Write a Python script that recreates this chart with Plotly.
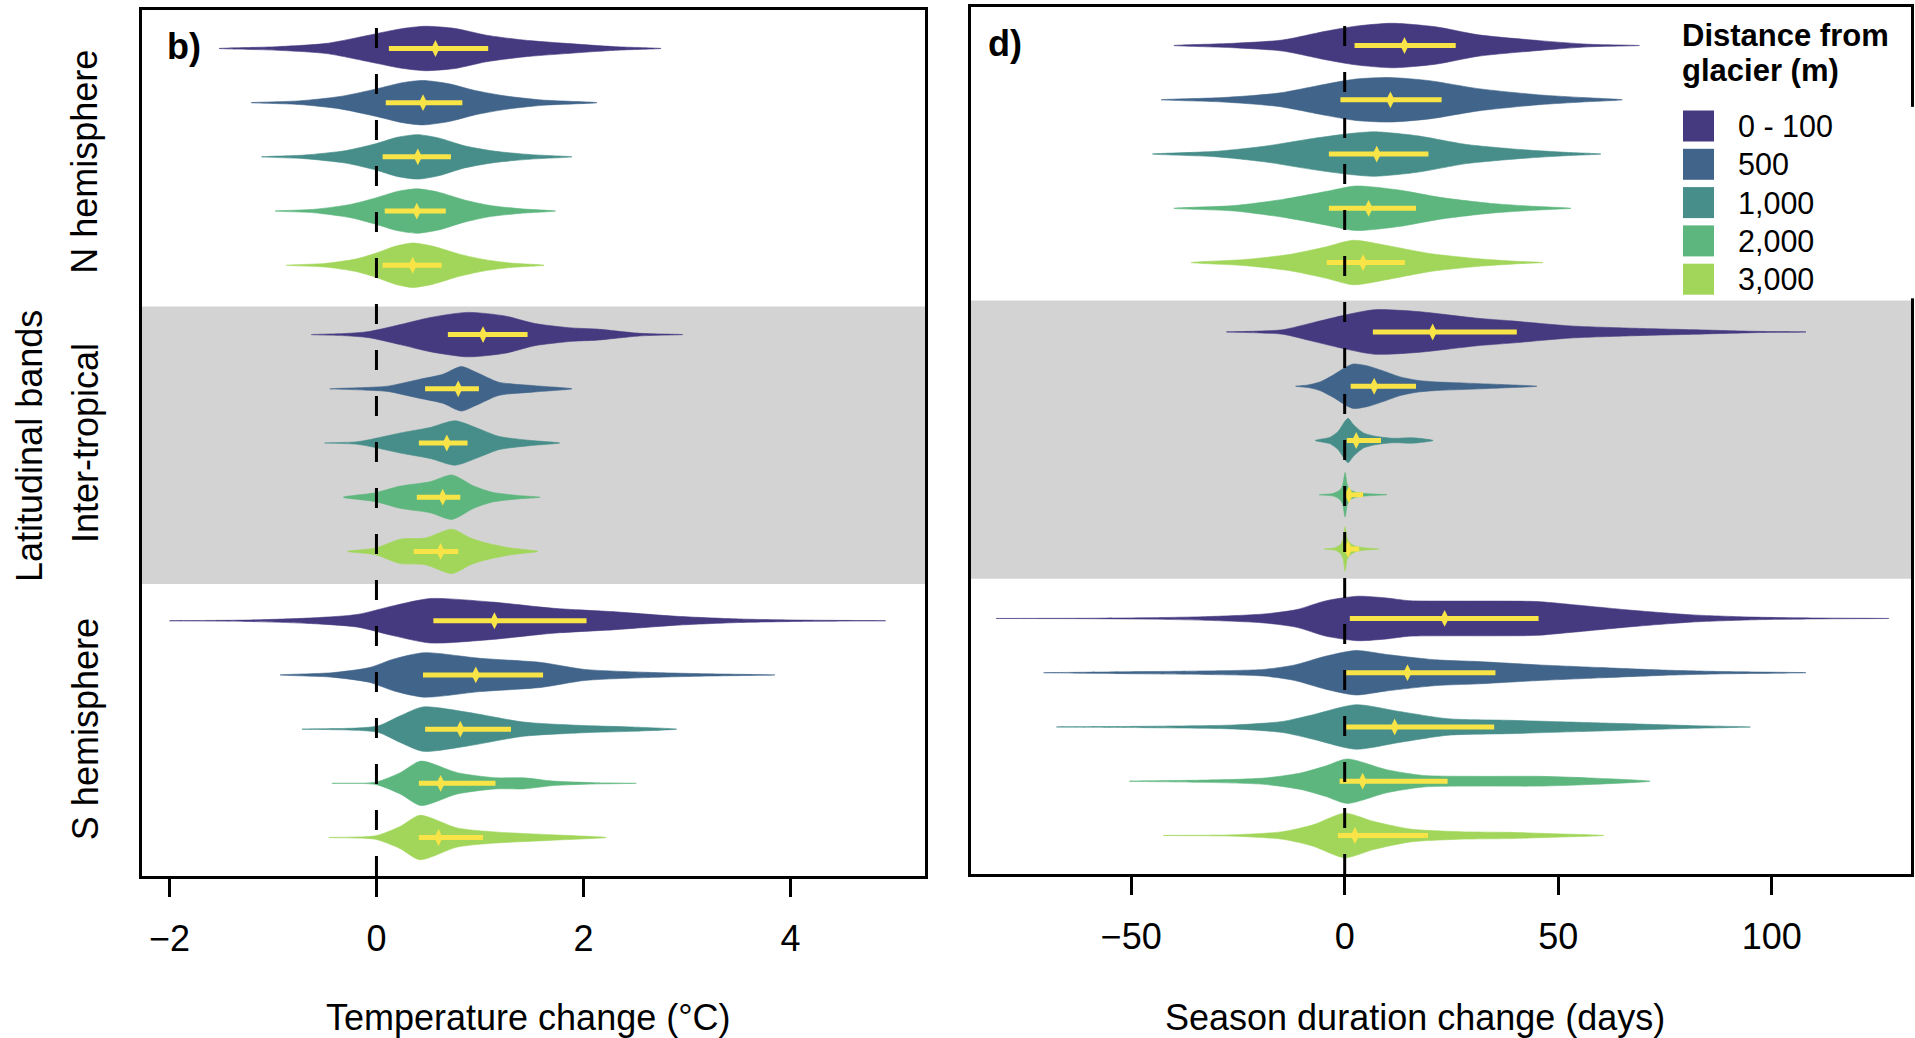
import plotly.graph_objects as go

# ---------------- data ----------------
groups = ["N hemisphere", "Inter-tropical", "S hemisphere"]
distances = ["0 - 100", "500", "1,000", "2,000", "3,000"]
colors = ["#453A80", "#41648A", "#478E8A", "#5DB67E", "#A2D65B"]

# Temperature change (°C): median, interquartile range, density profile (x knots, relative width)
temp_median = [0.57, 0.45, 0.40, 0.39, 0.35, 1.03, 0.79, 0.68, 0.64, 0.62, 1.14, 0.96, 0.81, 0.62, 0.60]
temp_q1 = [0.12, 0.09, 0.06, 0.08, 0.06, 0.69, 0.47, 0.41, 0.39, 0.36, 0.55, 0.45, 0.47, 0.41, 0.41]
temp_q3 = [1.08, 0.83, 0.72, 0.67, 0.63, 1.46, 0.99, 0.88, 0.81, 0.79, 2.03, 1.61, 1.30, 1.15, 1.03]
temp_x = [
    [-1.52, -0.96, -0.48, -0.07, 0.23, 0.47, 0.76, 1.06, 1.42, 1.83, 2.31, 2.75],
    [-1.21, -0.75, -0.35, 0.0, 0.25, 0.45, 0.7, 0.95, 1.25, 1.6, 2.13],
    [-1.11, -0.7, -0.3, 0.0, 0.2, 0.40, 0.6, 0.85, 1.15, 1.5, 1.89],
    [-0.98, -0.6, -0.25, 0.0, 0.2, 0.39, 0.6, 0.85, 1.1, 1.4, 1.73],
    [-0.87, -0.5, -0.2, 0.0, 0.18, 0.35, 0.55, 0.8, 1.05, 1.3, 1.62],
    [-0.63, -0.3, -0.07, 0.23, 0.52, 0.88, 1.24, 1.53, 1.89, 2.13, 2.54, 2.96],
    [-0.45, -0.1, 0.11, 0.41, 0.64, 0.82, 0.97, 1.18, 1.53, 1.89],
    [-0.50, -0.2, -0.07, 0.23, 0.52, 0.76, 1.0, 1.18, 1.48, 1.77],
    [-0.32, -0.01, 0.23, 0.52, 0.73, 0.94, 1.12, 1.36, 1.58],
    [-0.28, -0.01, 0.23, 0.47, 0.73, 0.91, 1.06, 1.30, 1.56],
    [-2.0, -1.26, -0.66, -0.19, 0.17, 0.52, 1.12, 1.71, 2.31, 2.90, 3.5, 4.09, 4.92],
    [-0.93, -0.43, -0.07, 0.17, 0.46, 1.0, 1.59, 2.01, 2.6, 3.2, 3.85],
    [-0.72, -0.19, 0.02, 0.23, 0.45, 0.88, 1.42, 2.01, 2.45, 2.90],
    [-0.43, -0.01, 0.23, 0.43, 0.78, 1.15, 1.42, 1.71, 2.1, 2.51],
    [-0.46, -0.01, 0.23, 0.42, 0.78, 1.15, 1.71, 2.22],
]
temp_w = [
    [0, .08, .23, .6, .88, 1, .9, .6, .38, .23, .08, 0],
    [0, .08, .28, .62, .9, 1, .85, .55, .3, .12, 0],
    [0, .08, .28, .6, .88, 1, .85, .5, .25, .1, 0],
    [0, .08, .3, .6, .88, 1, .85, .5, .25, .1, 0],
    [0, .08, .28, .55, .85, 1, .85, .5, .25, .1, 0],
    [0, .05, .14, .45, .77, 1, .84, .5, .3, .25, .06, 0],
    [0, .06, .12, .42, .65, 1, .73, .3, .14, 0],
    [0, .05, .15, .45, .7, 1, .62, .3, .12, 0],
    [0, .2, .5, .7, 1, .5, .22, .08, 0],
    [0, .15, .55, .6, 1, .6, .38, .15, 0],
    [0, .03, .12, .28, .68, 1, .84, .56, .4, .2, .08, .03, 0],
    [0, .1, .33, .72, 1, .75, .56, .25, .12, .05, 0],
    [0, .05, .15, .6, 1, .76, .32, .16, .1, 0],
    [0, .05, .48, 1, .48, .25, .25, .1, .03, 0],
    [0, .08, .5, 1, .43, .25, .12, 0],
]

# Season duration change (days)
season_median = [14.0, 10.7, 7.5, 5.6, 4.3, 20.6, 6.9, 2.7, 1.0, 0.8, 23.4, 14.7, 11.7, 4.2, 2.4]
season_q1 = [2.3, -1.0, -3.7, -3.7, -4.2, 6.6, 1.4, 0.5, 0.5, 0.5, 1.2, 0.0, 0.0, -1.2, -1.6]
season_q3 = [26.0, 22.7, 19.6, 16.7, 14.1, 40.3, 16.7, 8.5, 4.3, 3.4, 45.4, 35.3, 35.0, 24.1, 19.5]
season_x = [
    [-40, -26, -14.5, -4.5, 2.6, 11, 21.3, 31.3, 45.6, 57, 69],
    [-43, -28.5, -15.5, -4.5, 2.6, 10.5, 19.8, 31.3, 45.6, 55.7, 65],
    [-45, -30.3, -18.8, -7.4, 1.2, 7, 17, 28.5, 41.4, 51.4, 60],
    [-40, -26, -14.5, -4.5, 2.6, 12.7, 22.7, 34.2, 44.2, 53],
    [-36, -23.2, -13.1, -4.5, 2, 9.8, 19.8, 31.3, 39.9, 46.4],
    [-27.7, -20, -14.5, -7.4, 0.3, 7, 17, 31, 39, 53, 67.5, 82, 96, 108],
    [-11.5, -8.5, -5.7, -2.7, 0.1, 2, 5.2, 9, 13, 16.9, 20.8, 28.6, 36.4, 45],
    [-6.9, -3.4, -1.5, 0.1, 0.8, 2, 4.4, 7.5, 11.4, 16.1, 20.7],
    [-6, -2.7, -1.2, -0.5, 0.1, 0.6, 1.3, 2.8, 5.9, 9.9],
    [-4.8, -2.2, -1.0, -0.4, 0.1, 0.6, 1.2, 2.6, 5.0, 8.1],
    [-81.6, -60, -47, -32.7, -18.9, -11.2, -4.5, 3, 9.8, 15, 25, 35, 45, 52.8, 67.2, 81.5, 95.8, 110, 127.4],
    [-70.5, -61.4, -47, -32.7, -18.9, -11.7, -4.5, 2.6, 9.8, 21.3, 31.3, 45.6, 60, 74.3, 88.7, 108],
    [-67.5, -47, -26, -14.5, -7.4, 2.6, 12.7, 24.2, 38.5, 52.8, 67.2, 81.5, 95],
    [-50.4, -32.7, -18.9, -10.3, -4.5, 0.6, 9.8, 18.4, 31.3, 45.6, 57, 71.5],
    [-42.5, -26, -14.5, -7.4, 0, 6.8, 15.4, 26.9, 38.5, 47.1, 60.7],
]
season_w = [
    [0, .1, .25, .64, .87, 1, .84, .48, .22, .06, 0],
    [0, .1, .3, .7, .93, 1, .86, .5, .22, .1, 0],
    [0, .12, .35, .7, .92, 1, .82, .43, .2, .08, 0],
    [0, .12, .4, .75, 1, .82, .48, .22, .09, 0],
    [0, .14, .36, .7, 1, .77, .41, .17, .06, 0],
    [0, .04, .1, .42, .77, 1, .92, .62, .5, .27, .17, .1, .03, 0],
    [0, .06, .2, .5, .84, 1, .92, .69, .42, .27, .2, .14, .08, 0],
    [0, .15, .42, .88, 1, .72, .34, .18, .1, .12, 0],
    [0, .06, .2, .42, 1, .45, .22, .1, .04, 0],
    [0, .06, .2, .42, 1, .45, .28, .12, .05, 0],
    [0, .01, .03, .08, .2, .4, .79, 1, .92, .8, .78, .78, .76, .63, .37, .16, .06, .02, 0],
    [0, .02, .05, .08, .15, .35, .74, 1, .82, .58, .5, .35, .23, .12, .05, 0],
    [0, .03, .09, .25, .55, 1, .7, .37, .3, .22, .14, .06, 0],
    [0, .05, .14, .37, .68, 1, .52, .26, .22, .22, .15, 0],
    [0, .03, .17, .48, 1, .63, .29, .17, .14, .09, 0],
]

temp_ticks = [-2, 0, 2, 4]
season_ticks = [-50, 0, 50, 100]

# ---------------- styling / layout constants ----------------
FONT = "Liberation Sans, Arial, Helvetica, sans-serif"
YELLOW = "#F9E448"
GREY = "#D3D3D3"
GROUP_STEP = 5.28      # row offset between latitudinal bands
HALF = 0.41            # max half-width of a violin (row units)
Y_RANGE = [15.27, -0.71]
W, H = 1915, 1038


def row_pos(i):
    g, r = divmod(i, 5)
    return g * GROUP_STEP + r


fig = go.Figure()


def add_panel(xa, ya, xs, ws, med, q1, q3):
    for i in range(len(xs)):
        pos = row_pos(i)
        xx, ww = xs[i], ws[i]
        px = list(xx) + list(xx[-2:0:-1]) + [xx[0]]
        py = [pos - w * HALF for w in ww] + [pos + w * HALF for w in ww[-2:0:-1]] + [pos]
        c = colors[i % 5]
        fig.add_trace(go.Scatter(
            x=px, y=py, mode="lines", fill="toself", fillcolor=c,
            line=dict(color=c, width=0.6, shape="spline", smoothing=0.7),
            xaxis=xa, yaxis=ya, showlegend=False, hoverinfo="skip"))
    bx, by = [], []
    for i in range(len(med)):
        bx += [q1[i], q3[i], None]
        by += [row_pos(i), row_pos(i), None]
    fig.add_trace(go.Scatter(x=bx, y=by, mode="lines", line=dict(color=YELLOW, width=5),
                             xaxis=xa, yaxis=ya, showlegend=False, hoverinfo="skip"))
    fig.add_trace(go.Scatter(x=med, y=[row_pos(i) for i in range(len(med))], mode="markers",
                             marker=dict(symbol="diamond-tall", size=12, color=YELLOW),
                             xaxis=xa, yaxis=ya, showlegend=False, hoverinfo="skip"))


add_panel("x", "y", temp_x, temp_w, temp_median, temp_q1, temp_q3)
add_panel("x2", "y2", season_x, season_w, season_median, season_q1, season_q3)

# legend swatches (drawn on a hidden helper axis)
fig.add_trace(go.Scatter(
    x=[0.5] * 5, y=distances, mode="markers",
    marker=dict(symbol="square", size=31, color=colors, line=dict(width=0)),
    xaxis="x3", yaxis="y3", showlegend=False, hoverinfo="skip", cliponaxis=False))

# grey inter-tropical bands
for xr, yr, y0, y1 in [("x domain", "y", 4.76, 9.88), ("x2 domain", "y2", 4.70, 9.83)]:
    fig.add_shape(type="rect", xref=xr, yref=yr, x0=0, x1=1, y0=y0, y1=y1,
                  fillcolor=GREY, line=dict(width=0), layer="below")
# dashed zero lines (drawn from bottom up)
for xr, yr in [("x", "y domain"), ("x2", "y2 domain")]:
    fig.add_shape(type="line", xref=xr, yref=yr, x0=0, x1=0, y0=0, y1=1,
                  line=dict(color="black", width=3, dash="20px,26px"), layer="above")

axis_common = dict(showgrid=False, zeroline=False, showline=True, linewidth=3,
                   linecolor="black", mirror=True)
xcommon = dict(axis_common, ticks="outside", ticklen=18, tickwidth=3, tickcolor="black",
               tickfont=dict(family=FONT, size=36, color="black"), ticklabelstandoff=11)
ycommon = dict(axis_common, showticklabels=False, ticks="", range=Y_RANGE)

fig.update_layout(
    width=W, height=H, margin=dict(l=0, r=0, t=0, b=0),
    paper_bgcolor="white", plot_bgcolor="white",
    font=dict(family=FONT, color="black"),
    xaxis=dict(xcommon, domain=[141.5 / W, 925 / W], range=[-2.27, 5.30],
               tickvals=temp_ticks, anchor="y"),
    yaxis=dict(ycommon, domain=[1 - 876 / H, 1 - 10 / H], anchor="x"),
    xaxis2=dict(xcommon, domain=[971 / W, 1911 / W], range=[-87.5, 132.6],
                tickvals=season_ticks, anchor="y2"),
    yaxis2=dict(ycommon, domain=[1 - 874 / H, 1 - 7 / H], anchor="x2"),
    xaxis3=dict(domain=[1683 / W, 1.0], range=[0, 232 / 31], visible=False, anchor="y3"),
    yaxis3=dict(domain=[1 - 298.35 / H, 1 - 106.85 / H], type="category",
                categoryorder="array", categoryarray=distances, range=[4.5, -0.5],
                visible=False, anchor="x3"),
    showlegend=False,
)

ann = []
# axis titles
ann.append(dict(text="Temperature change (°C)", x=528 / W, y=1 - 1017 / H, xref="paper", yref="paper",
                showarrow=False, xanchor="center", yanchor="middle", font=dict(size=36)))
ann.append(dict(text="Season duration change (days)", x=1415 / W, y=1 - 1017 / H, xref="paper",
                yref="paper", showarrow=False, xanchor="center", yanchor="middle", font=dict(size=36)))
# panel letters
ann.append(dict(text="<b>b)</b>", x=165 / W, y=1 - 47 / H, xref="paper", yref="paper",
                showarrow=False, xanchor="left", yanchor="middle", font=dict(size=36)))
ann.append(dict(text="<b>d)</b>", x=986 / W, y=1 - 44 / H, xref="paper", yref="paper",
                showarrow=False, xanchor="left", yanchor="middle", font=dict(size=36)))
# legend title and labels
ann.append(dict(text="<b>Distance from</b>", x=1680 / W, y=1 - 36 / H, xref="paper", yref="paper",
                showarrow=False, xanchor="left", yanchor="middle", font=dict(size=31)))
ann.append(dict(text="<b>glacier (m)</b>", x=1680 / W, y=1 - 71 / H, xref="paper", yref="paper",
                showarrow=False, xanchor="left", yanchor="middle", font=dict(size=31)))
for k, lab in enumerate(distances):
    ann.append(dict(text=lab, x=1736 / W, y=k, xref="paper", yref="y3", showarrow=False,
                    xanchor="left", yanchor="middle", font=dict(size=30.5)))
# latitudinal band labels
label_pos = [2.09, 2 + GROUP_STEP, 2 + 2 * GROUP_STEP]
for name, yp in zip(groups, label_pos):
    ann.append(dict(text=name, x=85 / W, y=yp, xref="paper", yref="y", showarrow=False,
                    textangle=-90, xanchor="center", yanchor="middle", font=dict(size=36)))
ann.append(dict(text="Latitudinal bands", x=29 / W, y=1 - 446 / H, xref="paper", yref="paper",
                showarrow=False, textangle=-90, xanchor="center", yanchor="middle",
                font=dict(size=36)))
fig.update_layout(annotations=ann)

fig.write_html("out.html", config={"displayModeBar": False},
               post_script="document.body.style.margin='0';document.body.style.padding='0';")
